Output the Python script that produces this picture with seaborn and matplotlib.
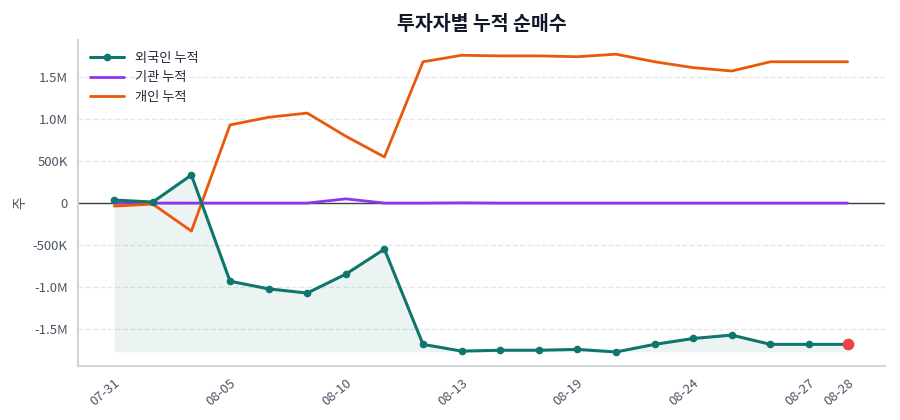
import matplotlib
matplotlib.use("Agg")
import matplotlib.pyplot as plt
import seaborn as sns
import pandas as pd
from matplotlib.ticker import FuncFormatter

# -----------------------
# Data (cumulative net buy, shares)
# -----------------------
dates = ["07-31", "08-01", "08-04", "08-05", "08-06", "08-07", "08-10",
         "08-11", "08-12", "08-13", "08-14", "08-18", "08-19", "08-20",
         "08-21", "08-24", "08-25", "08-26", "08-27", "08-28"]
foreign_cum = [36000, 12000, 333000, -929000, -1020000, -1070000, -845000,
               -548000, -1680000, -1760000, -1750000, -1750000, -1740000, -1770000,
               -1680000, -1610000, -1570000, -1680000, -1680000, -1680000]
inst_cum = [0, 0, 0, 0, 0, 0, 50000,
            0, 0, 3000, 0, 0, 0, 0,
            0, 0, 0, 0, 0, 0]
indiv_cum = [-36000, -12000, -333000, 929000, 1020000, 1070000, 795000,
             548000, 1680000, 1757000, 1750000, 1750000, 1740000, 1770000,
             1680000, 1610000, 1570000, 1680000, 1680000, 1680000]
shown_ticks = ["07-31", "08-05", "08-10", "08-13", "08-19", "08-24", "08-27", "08-28"]

TEAL = "#0f766e"
PURPLE = "#9333ea"
ORANGE = "#ea580c"

sns.set_style("white")
plt.rcParams["font.family"] = ["Noto Sans CJK KR", "DejaVu Sans"]

df = pd.DataFrame({"idx": range(len(dates)), "date": dates,
                   "foreign": foreign_cum, "inst": inst_cum, "indiv": indiv_cum})

fig, ax = plt.subplots(figsize=(9, 4.2), dpi=100)
fig.subplots_adjust(left=0.087, right=0.983, top=0.905, bottom=0.128)

# shaded area under the foreign line
base = min(foreign_cum)
ax.fill_between(df["idx"], df["foreign"], base, color=TEAL, alpha=0.08, lw=0)

ax.axhline(0, color="#374151", lw=1, zorder=1)

sns.lineplot(data=df, x="idx", y="foreign", ax=ax, color=TEAL, lw=2.2,
             marker="o", markersize=5.5, markeredgewidth=0, label="외국인 누적", zorder=4)
sns.lineplot(data=df, x="idx", y="inst", ax=ax, color=PURPLE, lw=2,
             label="기관 누적", zorder=3)
sns.lineplot(data=df, x="idx", y="indiv", ax=ax, color=ORANGE, lw=2,
             label="개인 누적", zorder=3)

# last point highlight
ax.scatter(df["idx"].iloc[-1], df["foreign"].iloc[-1], s=55, color="#ef4444", zorder=5)

ax.set_xlim(-0.93, 19.96)
ax.set_ylim(-1.94e6, 1.94e6)

tick_pos = [dates.index(d) for d in shown_ticks]
ax.set_xticks(tick_pos)
ax.set_xticklabels(shown_ticks, rotation=40, ha="right", rotation_mode="anchor")


def fmt(v, _):
    if v == 0:
        return "0"
    if abs(v) >= 1e6:
        return f"{v / 1e6:.1f}M"
    return f"{v / 1e3:.0f}K"


ax.set_yticks([-1.5e6, -1e6, -5e5, 0, 5e5, 1e6, 1.5e6])
ax.yaxis.set_major_formatter(FuncFormatter(fmt))
ax.tick_params(axis="both", colors="#4b5563", labelsize=9.5, length=4, width=1)
ax.tick_params(axis="both", color="#9ca3af")

ax.grid(axis="y", ls="--", color="#e5e7eb", lw=1)
ax.set_axisbelow(True)
for s in ["top", "right"]:
    ax.spines[s].set_visible(False)
for s in ["left", "bottom"]:
    ax.spines[s].set_color("#d1d5db")
    ax.spines[s].set_linewidth(1.5)

ax.set_xlabel("")
ax.set_ylabel("주", color="#4b5563", fontsize=10)
ax.set_title("투자자별 누적 순매수", fontsize=14, fontweight="bold", color="#111827", pad=7)

leg = ax.legend(loc="upper left", frameon=False, fontsize=9.5, handlelength=2.6)
for t in leg.get_texts():
    t.set_color("#1f2937")

plt.savefig("out.png", dpi=100)
plt.close()
